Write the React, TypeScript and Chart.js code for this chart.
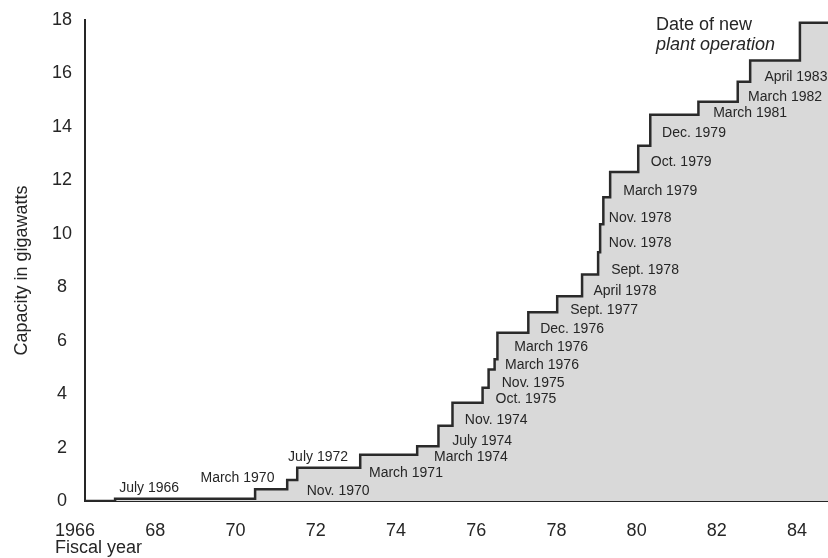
import { useEffect, useRef } from "react";
import { Chart, registerables } from "chart.js";

Chart.register(...registerables);

// Step series: fiscal year at which the capacity changes, and the new capacity (GW)
const stepYears = [
  1966.25, 1967.0, 1970.49, 1971.29, 1971.54, 1973.11, 1974.53, 1975.06, 1975.41,
  1976.16, 1976.31, 1976.46, 1976.53, 1977.3, 1978.02, 1978.64, 1979.04, 1979.09,
  1979.17, 1979.34, 1980.04, 1980.34, 1981.54, 1982.52, 1982.83, 1984.07, 1984.77,
];
const capacityGW = [
  0, 0.08, 0.44, 0.79, 1.24, 1.73, 2.05, 2.82, 3.68, 4.24, 4.92, 5.3, 6.3, 7.06, 7.66,
  8.48, 9.31, 10.36, 11.37, 12.31, 13.29, 14.45, 14.94, 15.69, 16.48, 17.9, 17.9,
];

// Date labels for each new plant, and where they sit (year, GW)
const eventLabels = [
  "July 1966", "March 1970", "Nov. 1970", "July 1972", "March 1971", "March 1974",
  "July 1974", "Nov. 1974", "Oct. 1975", "Nov. 1975", "March 1976", "March 1976",
  "Dec. 1976", "Sept. 1977", "April 1978", "Sept. 1978", "Nov. 1978", "Nov. 1978",
  "March 1979", "Oct. 1979", "Dec. 1979", "March 1981", "March 1982", "April 1983",
];
const labelYears = [
  1967.85, 1970.05, 1972.56, 1972.06, 1974.25, 1975.87, 1976.15, 1976.5, 1977.24,
  1977.42, 1977.64, 1977.87, 1978.39, 1979.19, 1979.71, 1980.21, 1980.09, 1980.09,
  1980.59, 1981.11, 1981.43, 1982.83, 1983.7, 1983.97,
];
const labelGW = [
  0.49, 0.86, 0.37, 1.65, 1.05, 1.65, 2.25, 3.03, 3.82, 4.42, 5.09, 5.76, 6.44, 7.15,
  7.86, 8.65, 9.66, 10.59, 11.6, 12.69, 13.77, 14.52, 15.12, 15.87,
];

const noteLines = ["Date of new", "plant operation"];
const noteYear = 1980.48;
const noteGW = [17.81, 17.07];

const xTicks = [1966, 1968, 1970, 1972, 1974, 1976, 1978, 1980, 1982, 1984];
const xMin = 1966.25;
const xMax = 1984.77;
const yMin = 0;
const yMax = 18;

const FONT = "'Liberation Sans', Arial, Helvetica, sans-serif";
const INK = "#262626";

export default function App() {
  const canvasRef = useRef<HTMLCanvasElement | null>(null);

  useEffect(() => {
    document.body.style.margin = "0";
    const canvas = canvasRef.current;
    if (!canvas) return;

    const annotations = {
      id: "annotations",
      afterDatasetsDraw(chart: any) {
        const { ctx } = chart;
        const xs = chart.scales.x;
        const ys = chart.scales.y;
        ctx.save();
        ctx.fillStyle = INK;
        ctx.textAlign = "center";
        ctx.textBaseline = "middle";
        ctx.font = `14px ${FONT}`;
        eventLabels.forEach((t, i) => {
          ctx.fillText(t, xs.getPixelForValue(labelYears[i]), ys.getPixelForValue(labelGW[i]));
        });
        ctx.textAlign = "left";
        ctx.font = `18px ${FONT}`;
        ctx.fillText(noteLines[0], xs.getPixelForValue(noteYear), ys.getPixelForValue(noteGW[0]));
        ctx.font = `italic 18px ${FONT}`;
        ctx.fillText(noteLines[1], xs.getPixelForValue(noteYear), ys.getPixelForValue(noteGW[1]));
        ctx.restore();
      },
      afterDraw(chart: any) {
        const { ctx } = chart;
        const xs = chart.scales.x;
        ctx.save();
        ctx.fillStyle = INK;
        ctx.font = `18px ${FONT}`;
        const w = ctx.measureText(String(xTicks[0])).width;
        ctx.textAlign = "left";
        ctx.textBaseline = "middle";
        ctx.fillText("Fiscal year", xs.getPixelForValue(xTicks[0]) - w / 2, xs.bottom - 10);
        ctx.restore();
      },
    };

    const chart = new Chart(canvas, {
      type: "line",
      data: {
        datasets: [
          {
            data: stepYears.map((x, i) => ({ x, y: capacityGW[i] })),
            stepped: "before",
            borderColor: "#2a2a2a",
            borderWidth: 2.5,
            borderJoinStyle: "miter",
            pointRadius: 0,
            fill: "origin",
            backgroundColor: "#d9d9d9",
          },
        ],
      },
      options: {
        animation: false,
        responsive: true,
        maintainAspectRatio: false,
        layout: { padding: { top: 20, right: 0, left: 0, bottom: 0 } },
        plugins: { legend: { display: false }, tooltip: { enabled: false } },
        scales: {
          x: {
            type: "linear",
            min: xMin,
            max: xMax,
            z: 1,
            afterBuildTicks: (scale: any) => {
              scale.ticks = xTicks.map((v) => ({ value: v }));
            },
            afterFit: (scale: any) => {
              scale.height = 57;
            },
            grid: { display: false },
            border: { display: true, color: INK, width: 2 },
            ticks: {
              autoSkip: false,
              maxRotation: 0,
              padding: 11,
              color: INK,
              font: { size: 18, family: FONT },
              callback: (v: any) => (v === xTicks[0] ? String(v) : String(v).slice(2)),
            },
          },
          y: {
            type: "linear",
            min: yMin,
            max: yMax,
            z: 1,
            afterFit: (scale: any) => {
              scale.width = 85;
            },
            grid: { display: false },
            border: { display: true, color: INK, width: 2 },
            ticks: {
              stepSize: 2,
              crossAlign: "center",
              padding: 5,
              color: INK,
              font: { size: 18, family: FONT },
            },
            title: {
              display: true,
              text: "Capacity in gigawatts    ",
              color: INK,
              font: { size: 18, family: FONT },
              padding: { top: 11, bottom: 0 },
            },
          },
        },
      },
      plugins: [annotations],
    } as any);

    return () => chart.destroy();
  }, []);

  return (
    <div style={{ width: 828, height: 558, position: "relative" }}>
      <canvas ref={canvasRef} />
    </div>
  );
}
